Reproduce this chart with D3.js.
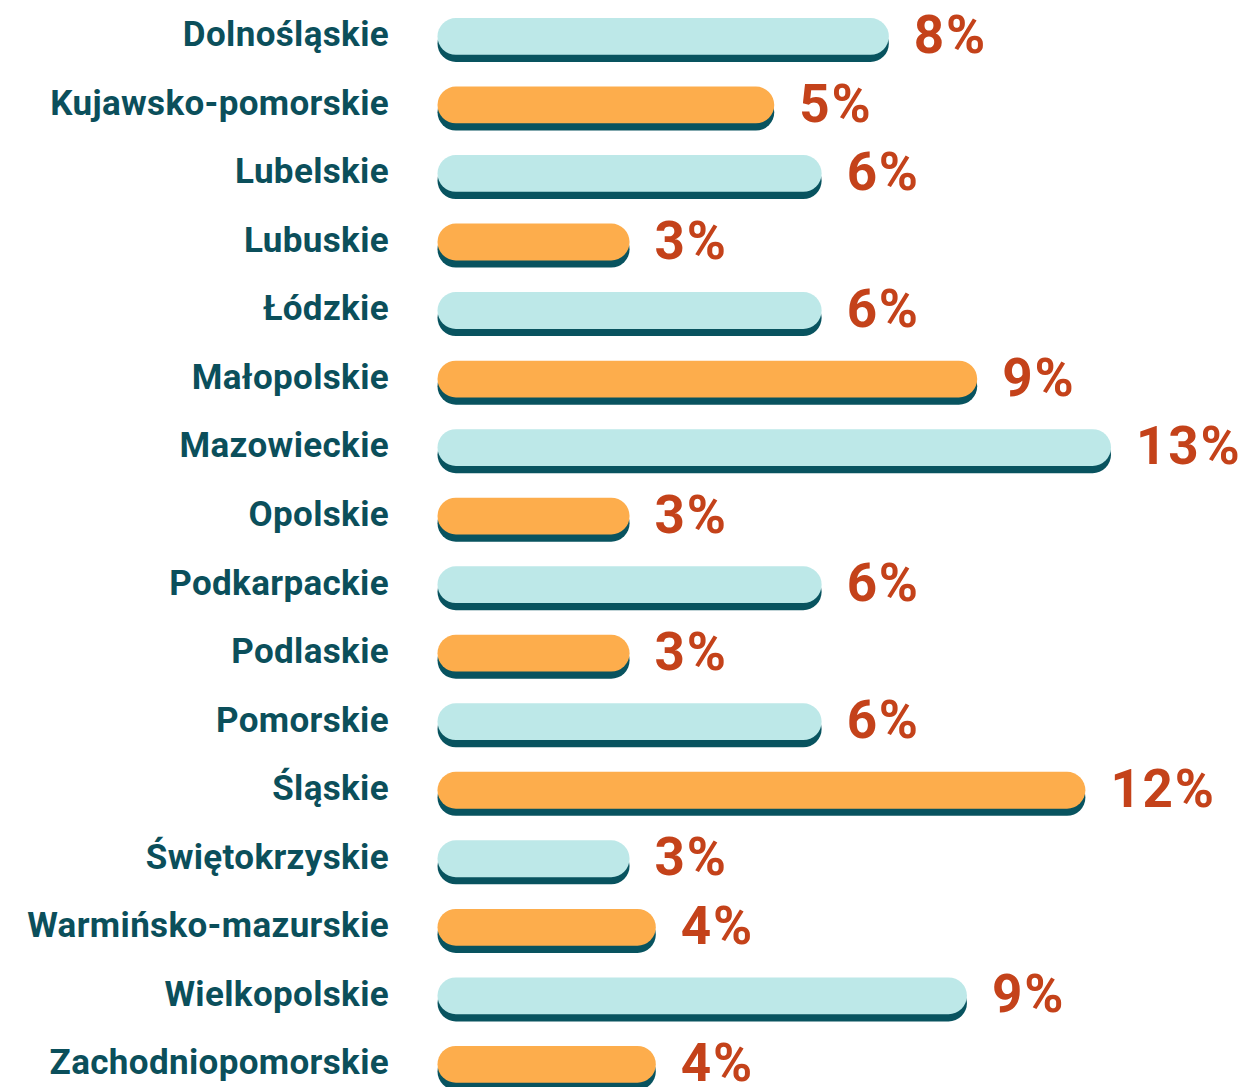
<!DOCTYPE html>
<html>
<head>
<meta charset="utf-8">
<script src="https://cdn.jsdelivr.net/npm/d3@7"></script>
<style>
  html, body { margin: 0; padding: 0; background: #ffffff; }
  svg { display: block; }
</style>
</head>
<body>
<svg id="chart" width="1244" height="1087"></svg>
<script>
// Regions (voivodeships), in display order
const regions = [
  "Dolnośląskie", "Kujawsko-pomorskie", "Lubelskie", "Lubuskie", "Łódzkie",
  "Małopolskie", "Mazowieckie", "Opolskie", "Podkarpackie", "Podlaskie",
  "Pomorskie", "Śląskie", "Świętokrzyskie", "Warmińsko-mazurskie",
  "Wielkopolskie", "Zachodniopomorskie"
];
// Percentages printed next to each bar
const shares = [8, 5, 6, 3, 6, 9, 13, 3, 6, 3, 6, 12, 3, 4, 9, 4];
// Bar lengths as drawn in the picture (in % units)
const barValues = [7.05, 5.26, 6, 3, 6, 8.43, 10.52, 3, 6, 3, 6, 10.12, 3, 3.41, 8.27, 3.41];

const svg = d3.select("#chart");

const x = d3.scaleLinear().domain([0, 10.52]).range([437.5, 1111]);
const y = d3.scaleBand().domain(regions).range([18, 18 + 68.53 * 16]).paddingInner(0).paddingOuter(0);

const barH = 36.8;
const shadowOff = 7.2;
const colors = ["#bde8e8", "#fdad4c"];

const rows = svg.selectAll("g.row")
  .data(regions.map((r, i) => ({ region: r, share: shares[i], bar: barValues[i], i })))
  .join("g")
  .attr("class", "row")
  .attr("transform", d => `translate(0,${y(d.region)})`);

// shadow
rows.append("rect")
  .attr("x", x(0))
  .attr("y", shadowOff)
  .attr("width", d => x(d.bar) - x(0))
  .attr("height", barH)
  .attr("rx", barH / 2)
  .attr("fill", "#08535f");

// bar
rows.append("rect")
  .attr("x", x(0))
  .attr("y", 0)
  .attr("width", d => x(d.bar) - x(0))
  .attr("height", barH)
  .attr("rx", barH / 2)
  .attr("fill", d => colors[d.i % 2]);

// region labels
rows.append("text")
  .attr("x", 389)
  .attr("y", 28.3)
  .attr("text-anchor", "end")
  .attr("font-family", "Roboto, sans-serif")
  .attr("font-weight", 700)
  .attr("font-size", 35)
  .attr("letter-spacing", 0.35)
  .attr("fill", "#0b4f5b")
  .text(d => d.region);

// value labels
rows.append("text")
  .attr("x", d => x(d.bar) + 25)
  .attr("y", 35)
  .attr("font-family", "Roboto, sans-serif")
  .attr("font-weight", 700)
  .attr("font-size", 53)
  .attr("letter-spacing", 1.8)
  .attr("fill", "#c4421a")
  .text(d => d.share + "%");
</script>
</body>
</html>
